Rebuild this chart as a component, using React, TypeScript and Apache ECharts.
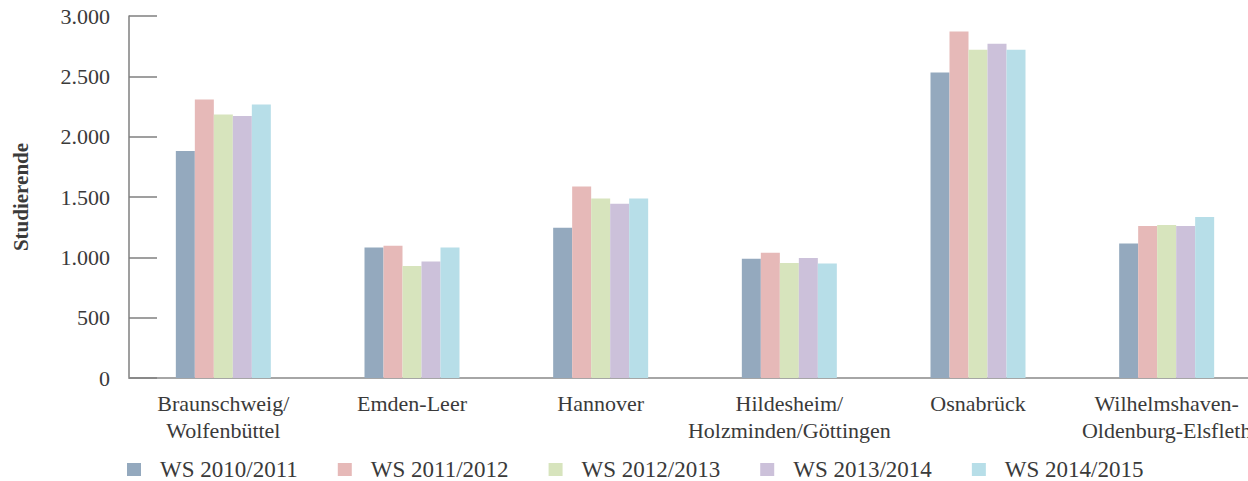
import React, { useEffect, useRef } from "react";
import * as echarts from "echarts";

const categories = [
  "Braunschweig/\nWolfenbüttel",
  "Emden-Leer",
  "Hannover",
  "Hildesheim/\nHolzminden/Göttingen",
  "Osnabrück",
  "Wilhelmshaven-\nOldenburg-Elsfleth",
];

const seriesNames = ["WS 2010/2011", "WS 2011/2012", "WS 2012/2013", "WS 2013/2014", "WS 2014/2015"];

const ws2010 = [1881, 1081, 1246, 989, 2531, 1114];
const ws2011 = [2307, 1097, 1586, 1039, 2871, 1260];
const ws2012 = [2183, 928, 1487, 953, 2721, 1268];
const ws2013 = [2171, 965, 1445, 994, 2771, 1260];
const ws2014 = [2266, 1081, 1487, 948, 2721, 1334];

const colors = ["#94a9be", "#e6b9b8", "#d7e4bd", "#ccc1da", "#b7dee8"];

const FONT = "Liberation Serif, serif";
const TEXT = "#3a3a3a";

export default function App() {
  const ref = useRef<HTMLDivElement>(null);
  useEffect(() => {
    if (!ref.current) return;
    const chart = echarts.init(ref.current, null, { renderer: "svg" });
    const values = [ws2010, ws2011, ws2012, ws2013, ws2014];
    chart.setOption({
      animation: false,
      color: colors,
      textStyle: { fontFamily: FONT },
      grid: {
        left: 129,
        width: 1132,
        top: 16,
        bottom: 103,
        containLabel: false,
        outerBoundsMode: "none",
      },
      legend: {
        left: 122,
        top: 453,
        itemWidth: 28,
        itemHeight: 13,
        itemGap: 40,
        icon: "path://M0,0H14V13H0Z M28,13L28,13",
        data: seriesNames,
        textStyle: {
          fontFamily: FONT,
          fontSize: 23,
          color: TEXT,
        },
      },
      xAxis: {
        type: "category",
        data: categories,
        axisLine: { show: true, lineStyle: { color: "#a6a6a6", width: 2 } },
        axisTick: { show: false },
        axisLabel: {
          interval: 0,
          margin: 12,
          fontFamily: FONT,
          fontSize: 22,
          lineHeight: 27,
          color: TEXT,
        },
        splitLine: { show: false },
      },
      yAxis: {
        type: "value",
        min: 0,
        max: 3000,
        interval: 500,
        name: "Studierende",
        nameLocation: "middle",
        nameGap: 98,
        nameRotate: 90,
        nameTextStyle: {
          fontFamily: FONT,
          fontSize: 21,
          fontWeight: "bold",
          color: TEXT,
        },
        axisLine: { show: true, lineStyle: { color: "#7f7f7f", width: 1.5 } },
        axisTick: { show: true, inside: true, length: 28, lineStyle: { color: "#7f7f7f", width: 1.5 } },
        splitLine: { show: false },
        axisLabel: {
          margin: 19,
          fontFamily: FONT,
          fontSize: 22,
          color: TEXT,
          verticalAlign: "middle",
          padding: [14, 0, 0, 0],
          formatter: (v: number) => v.toLocaleString("de-DE"),
        },
      },
      series: values.map((d, i) => ({
        name: seriesNames[i],
        type: "bar",
        data: d,
        barWidth: 19,
        barGap: "0%",
        itemStyle: { color: colors[i] },
      })),
    });
    return () => chart.dispose();
  }, []);
  return (
    <div
      ref={ref}
      style={{ position: "fixed", left: 0, top: 0, width: 1248, height: 481, background: "#fff" }}
    />
  );
}
